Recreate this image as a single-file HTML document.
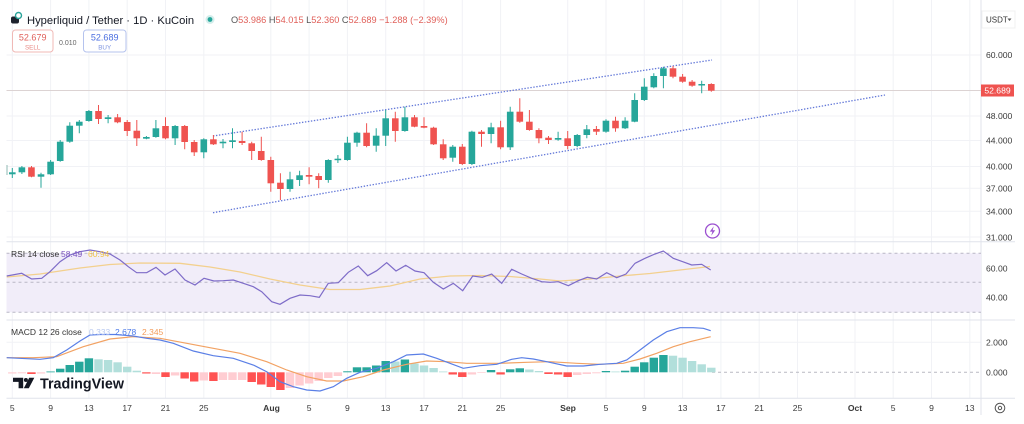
<!DOCTYPE html>
<html><head><meta charset="utf-8"><style>
html,body{margin:0;padding:0;background:#fff;}
svg{display:block;font-family:"Liberation Sans",sans-serif;}
</style></head><body>
<svg width="1024" height="424" viewBox="0 0 1024 424" xmlns="http://www.w3.org/2000/svg">
<defs><clipPath id="c"><rect x="6.5" y="0" width="974.5" height="398"/></clipPath></defs>
<rect width="1024" height="424" fill="#fff"/>
<!-- vertical grid -->
<g stroke="#f1f2f6" stroke-width="1">
<path d="M12.3 0V398M50.6 0V398M88.9 0V398M127.2 0V398M165.5 0V398M203.8 0V398M270.8 0V398M309.1 0V398M347.4 0V398M385.7 0V398M424 0V398M462.3 0V398M500.6 0V398M567.7 0V398M606 0V398M644.3 0V398M682.6 0V398M720.9 0V398M759.2 0V398M797.5 0V398M855 0V398M893.2 0V398M931.5 0V398M969.8 0V398"/>
<path d="M6.5 55H981M6.5 116H981M6.5 140.5H981M6.5 166.5H981M6.5 188.3H981M6.5 211.3H981M6.5 237H981M6.5 342.3H981"/>
</g>
<!-- separators -->
<g stroke="#e0e3eb" stroke-width="1">
<path d="M6.5 241.7H1015M6.5 320H1015M6.5 398.3H1015M981 0V415"/>
</g>
<!-- RSI band -->
<rect x="6.5" y="253.3" width="974.5" height="59" fill="#f1edf9"/>
<g stroke="#b9b7c6" stroke-width="1" stroke-dasharray="3,3">
<path d="M6.5 253.3H981M6.5 282.3H981M6.5 312.3H981"/>
</g>
<path d="M712 372.3H981" stroke="#b9b9c2" stroke-width="1" stroke-dasharray="3,3"/>
<!-- price line -->
<path d="M6.5 90.5H981" stroke="#dcd3d3" stroke-width="1"/>
<g clip-path="url(#c)">
<!-- channel -->
<g stroke="#6378d8" stroke-width="1.3" stroke-dasharray="1.4,1.6" fill="none">
<path d="M213 136L712 60"/>
<path d="M213 212.7L885 95"/>
</g>
<path d="M7 165V175" stroke="#8fb9b3" stroke-width="1"/>
<!-- teal candles -->
<path stroke="#26a69a" stroke-width="1" fill="none" d="M12.3 168V178M21.9 166V174M41 172.7V187.7M50.6 160V175M60.2 140V161.7M69.8 122.3V142.7M79.3 120V133.3M88.9 110V121.7M108.1 115V123.3M146.4 136V139.3M155.9 120V137.7M175.1 125V145M203.8 138.3V158.3M223 139V148.3M232.5 128.3V148.3M290 171.7V191.7M299.6 170.7V186M328.3 159.3V182.7M337.9 155V163M347.4 136.7V160.7M357 131.7V146.7M376.2 128.3V151.7M385.7 110V146M404.9 106.7V131.7M452.8 145V161.7M471.9 130.7V165M491.1 122.7V143.3M510.2 106.7V150M558.1 131.7V140.7M577.2 134V147.3M586.8 125V138.3M606 119.3V132.7M625.1 117.3V129M634.7 93.3V122.3M644.3 78.3V101M653.8 73.3V88.3M663.4 66.7V88.3M701.7 80.7V93.3"/>
<g fill="#26a69a">
<rect x="9" y="172.3" width="6.6" height="2"/>
<rect x="18.6" y="167.3" width="6.6" height="5"/>
<rect x="37.7" y="174.3" width="6.6" height="2.4"/>
<rect x="47.3" y="161.7" width="6.6" height="12.6"/>
<rect x="56.9" y="141.7" width="6.6" height="19.3"/>
<rect x="66.45" y="125.7" width="6.6" height="16"/>
<rect x="76" y="121.7" width="6.6" height="4"/>
<rect x="85.6" y="111" width="6.6" height="10"/>
<rect x="104.75" y="117.3" width="6.6" height="1.7"/>
<rect x="143.05" y="137" width="6.6" height="1.7"/>
<rect x="152.6" y="128.3" width="6.6" height="8.7"/>
<rect x="171.8" y="126" width="6.6" height="12.3"/>
<rect x="200.5" y="139.3" width="6.6" height="13"/>
<rect x="219.65" y="141.7" width="6.6" height="1.6"/>
<rect x="229.2" y="140.3" width="6.6" height="1.7"/>
<rect x="286.7" y="179.3" width="6.6" height="9.7"/>
<rect x="296.25" y="175.3" width="6.6" height="4.7"/>
<rect x="325" y="160" width="6.6" height="20"/>
<rect x="334.55" y="158.7" width="6.6" height="1.5"/>
<rect x="344.1" y="142.7" width="6.6" height="17.3"/>
<rect x="353.7" y="132.7" width="6.6" height="10"/>
<rect x="372.85" y="135.7" width="6.6" height="10"/>
<rect x="382.4" y="118.3" width="6.6" height="17.4"/>
<rect x="401.6" y="117.3" width="6.6" height="13.7"/>
<rect x="449.45" y="146.7" width="6.6" height="11"/>
<rect x="468.6" y="131.7" width="6.6" height="32.3"/>
<rect x="487.75" y="127.3" width="6.6" height="6.7"/>
<rect x="506.9" y="111.7" width="6.6" height="35.6"/>
<rect x="554.8" y="138" width="6.6" height="1.7"/>
<rect x="573.9" y="135" width="6.6" height="11"/>
<rect x="583.5" y="129.3" width="6.6" height="5.7"/>
<rect x="602.65" y="120.7" width="6.6" height="11"/>
<rect x="621.8" y="120.7" width="6.6" height="7.6"/>
<rect x="631.4" y="100" width="6.6" height="21.7"/>
<rect x="640.95" y="86.7" width="6.6" height="13.3"/>
<rect x="650.5" y="76" width="6.6" height="11.3"/>
<rect x="660.1" y="68.3" width="6.6" height="7.7"/>
<rect x="698.4" y="84" width="6.6" height="1.5"/>
</g>
<!-- red candles -->
<path stroke="#ef5350" stroke-width="1" fill="none" d="M31.5 166V177.3M98.5 105V124M117.6 114V123.3M127.2 120V136M136.8 120V146M165.5 117.3V139.3M184.7 125V149.3M194.2 140V156M213.4 135V145M242.1 131.7V145M251.7 141.7V160M261.3 136.7V160.7M270.8 156.7V191.7M280.4 173.3V200M309.1 167.3V184.3M318.7 173.3V188.3M366.6 123.3V147.3M395.3 111.7V141.7M414.5 115V127.3M424 117.3V128.3M433.6 126.7V145M443.2 139.3V160M462.3 144V165M481.5 130V146.7M500.6 120.7V149.3M519.8 98.3V122.7M529.4 110V130.7M538.9 128.3V143.3M548.5 136V144M567.7 131V149.3M596.4 126V135M615.5 116.7V131.7M673 66V78.3M682.6 74V82.7M692.1 80V86.7M711.3 83.3V91.7"/>
<g fill="#ef5350">
<rect x="28.15" y="167.3" width="6.6" height="9.4"/>
<rect x="95.2" y="111" width="6.6" height="8"/>
<rect x="114.3" y="117.3" width="6.6" height="5"/>
<rect x="123.9" y="122" width="6.6" height="9"/>
<rect x="133.5" y="130.7" width="6.6" height="7.6"/>
<rect x="162.2" y="126" width="6.6" height="12.3"/>
<rect x="181.35" y="126" width="6.6" height="16"/>
<rect x="190.9" y="142" width="6.6" height="10.3"/>
<rect x="210.1" y="139.3" width="6.6" height="5"/>
<rect x="238.8" y="141" width="6.6" height="2"/>
<rect x="248.4" y="143.3" width="6.6" height="7.7"/>
<rect x="257.95" y="151" width="6.6" height="9"/>
<rect x="267.5" y="160" width="6.6" height="23.3"/>
<rect x="277.1" y="182.7" width="6.6" height="6.3"/>
<rect x="305.8" y="175" width="6.6" height="1.7"/>
<rect x="315.4" y="176" width="6.6" height="4"/>
<rect x="363.3" y="132.7" width="6.6" height="13.3"/>
<rect x="392" y="118.3" width="6.6" height="12.7"/>
<rect x="411.15" y="117.3" width="6.6" height="9.4"/>
<rect x="420.7" y="126" width="6.6" height="1.7"/>
<rect x="430.3" y="127.7" width="6.6" height="16.6"/>
<rect x="439.9" y="144.3" width="6.6" height="14"/>
<rect x="459" y="146.7" width="6.6" height="17.3"/>
<rect x="478.2" y="131.7" width="6.6" height="2.3"/>
<rect x="497.3" y="127.3" width="6.6" height="20"/>
<rect x="516.5" y="111.7" width="6.6" height="10"/>
<rect x="526.05" y="121.7" width="6.6" height="8.3"/>
<rect x="535.6" y="130" width="6.6" height="8.3"/>
<rect x="545.2" y="137.7" width="6.6" height="2.3"/>
<rect x="564.35" y="138.3" width="6.6" height="7.7"/>
<rect x="593.1" y="129" width="6.6" height="2.7"/>
<rect x="612.2" y="120.7" width="6.6" height="7.6"/>
<rect x="669.7" y="68.3" width="6.6" height="8.4"/>
<rect x="679.25" y="76.7" width="6.6" height="5"/>
<rect x="688.8" y="81.7" width="6.6" height="4"/>
<rect x="708" y="84" width="6.6" height="6.7"/>
</g>
<!-- RSI -->
<polyline fill="none" stroke="#f3d08e" stroke-width="1.3" points="6.7,277 40,274 80,268 110,264.5 140,263 180,263.3 210,267 240,272 270,279 300,285 330,289.5 360,289.5 390,286 420,279 450,276 480,275.5 510,276.5 540,279 560,281 590,279 620,276 650,273.5 680,270 710,266.5"/>
<polyline fill="none" stroke="#7e6cc8" stroke-width="1.2" points="6.7,276 21.7,273.3 31.7,279 41.7,278.3 50,271.7 60,261.7 70,255 80,251.7 90,250 100,251.7 110,254 120,260 128.3,266.7 136.7,272.7 146.7,272.7 156,267.3 165,275 175,269 185,280 195,285 204,278.3 214,281 223.3,280.7 233.3,280 243.3,283.3 253.3,286.7 261.7,291.7 271.7,301.7 280,304.3 290,298.3 300,295 310,295.7 319.3,297.3 328.3,283.3 338.3,282.7 348.3,272.3 358.3,266 367.7,275.7 376.7,270.7 386.7,262.7 396,271 405.7,265.3 415,271 424,272.7 433.3,282.3 443.3,289 453.3,283.3 462.7,290.7 472.7,276 482.3,277.3 491.7,274 501.7,283.3 511.7,269.3 521.7,274 531.7,278.3 541.7,281.7 550,282.3 558.3,281.7 568.3,285.7 578.3,280.7 587.3,277.3 596.7,279 606.7,272.7 616.7,277.7 626,274 635,263.3 645,258.3 655,254 663.3,251 673.3,258.3 682.7,261.7 691.7,265 701.7,264.3 710.7,270"/>
<!-- MACD histogram -->
<g fill="#26a69a">
<rect x="46.4" y="371.5" width="8.4" height="0.8"/>
<rect x="56" y="368.7" width="8.4" height="3.6"/>
<rect x="65.55" y="365" width="8.4" height="7.3"/>
<rect x="75.1" y="361.7" width="8.4" height="10.6"/>
<rect x="84.7" y="358.3" width="8.4" height="14"/>
<rect x="343.2" y="371.3" width="8.4" height="1"/>
<rect x="352.8" y="367.3" width="8.4" height="5"/>
<rect x="362.4" y="367.3" width="8.4" height="5"/>
<rect x="371.95" y="365.5" width="8.4" height="6.8"/>
<rect x="381.5" y="361" width="8.4" height="11.3"/>
<rect x="400.7" y="359.5" width="8.4" height="12.8"/>
<rect x="486.85" y="370" width="8.4" height="2.3"/>
<rect x="506" y="369.3" width="8.4" height="3"/>
<rect x="515.6" y="368.3" width="8.4" height="4"/>
<rect x="601.75" y="371" width="8.4" height="1.3"/>
<rect x="620.9" y="370.7" width="8.4" height="1.6"/>
<rect x="630.5" y="366.7" width="8.4" height="5.6"/>
<rect x="640.05" y="362.3" width="8.4" height="10"/>
<rect x="649.6" y="357.7" width="8.4" height="14.6"/>
<rect x="659.2" y="355" width="8.4" height="17.3"/>
</g>
<g fill="#b2dfdb">
<rect x="94.3" y="359.3" width="8.4" height="13"/>
<rect x="103.85" y="360" width="8.4" height="12.3"/>
<rect x="113.4" y="362.3" width="8.4" height="10"/>
<rect x="123" y="366.7" width="8.4" height="5.6"/>
<rect x="132.6" y="370.7" width="8.4" height="1.6"/>
<rect x="391.1" y="361.5" width="8.4" height="10.8"/>
<rect x="410.25" y="363.5" width="8.4" height="8.8"/>
<rect x="419.8" y="365.5" width="8.4" height="6.8"/>
<rect x="429.4" y="368" width="8.4" height="4.3"/>
<rect x="439" y="371.5" width="8.4" height="0.8"/>
<rect x="525.15" y="369.5" width="8.4" height="2.8"/>
<rect x="534.7" y="371" width="8.4" height="1.3"/>
<rect x="611.3" y="371.5" width="8.4" height="0.8"/>
<rect x="668.8" y="355.7" width="8.4" height="16.6"/>
<rect x="678.35" y="357.7" width="8.4" height="14.6"/>
<rect x="687.9" y="361" width="8.4" height="11.3"/>
<rect x="697.5" y="364.3" width="8.4" height="8"/>
<rect x="707.1" y="367.7" width="8.4" height="4.6"/>
</g>
<g fill="#ff5252">
<rect x="27.25" y="372.3" width="8.4" height="1.7"/>
<rect x="142.15" y="372.3" width="8.4" height="1.2"/>
<rect x="161.3" y="372.3" width="8.4" height="4.7"/>
<rect x="180.45" y="372.3" width="8.4" height="6.2"/>
<rect x="190" y="372.3" width="8.4" height="9.2"/>
<rect x="209.2" y="372.3" width="8.4" height="8.7"/>
<rect x="247.5" y="372.3" width="8.4" height="9.7"/>
<rect x="257.05" y="372.3" width="8.4" height="12.2"/>
<rect x="266.6" y="372.3" width="8.4" height="14.7"/>
<rect x="276.2" y="372.3" width="8.4" height="17.7"/>
<rect x="448.55" y="372.3" width="8.4" height="2.2"/>
<rect x="458.1" y="372.3" width="8.4" height="4.7"/>
<rect x="496.4" y="372.3" width="8.4" height="2.2"/>
<rect x="544.3" y="372.3" width="8.4" height="1.7"/>
<rect x="553.9" y="372.3" width="8.4" height="2.2"/>
<rect x="563.45" y="372.3" width="8.4" height="4.7"/>
</g>
<g fill="#ffcdd2">
<rect x="8.1" y="372.3" width="8.4" height="1.2"/>
<rect x="17.7" y="372.3" width="8.4" height="1"/>
<rect x="36.8" y="372.3" width="8.4" height="1.2"/>
<rect x="151.7" y="372.3" width="8.4" height="1.7"/>
<rect x="170.9" y="372.3" width="8.4" height="3.2"/>
<rect x="199.6" y="372.3" width="8.4" height="8.2"/>
<rect x="218.75" y="372.3" width="8.4" height="7.7"/>
<rect x="228.3" y="372.3" width="8.4" height="7.7"/>
<rect x="237.9" y="372.3" width="8.4" height="7.7"/>
<rect x="285.8" y="372.3" width="8.4" height="15.7"/>
<rect x="295.35" y="372.3" width="8.4" height="13.2"/>
<rect x="304.9" y="372.3" width="8.4" height="11.2"/>
<rect x="314.5" y="372.3" width="8.4" height="8.7"/>
<rect x="324.1" y="372.3" width="8.4" height="5.7"/>
<rect x="333.65" y="372.3" width="8.4" height="3.7"/>
<rect x="467.7" y="372.3" width="8.4" height="2.2"/>
<rect x="477.3" y="372.3" width="8.4" height="0.7"/>
<rect x="573" y="372.3" width="8.4" height="2.7"/>
<rect x="582.6" y="372.3" width="8.4" height="1.7"/>
<rect x="592.2" y="372.3" width="8.4" height="1"/>
</g>
<!-- MACD lines -->
<polyline fill="none" stroke="#f2a263" stroke-width="1.2" points="6.7,357.7 33.3,357.7 56.7,356.7 83.3,346.7 110,339 133.3,336.7 160,338.3 186.7,343.3 213.3,348.3 240,353.3 266.7,361.7 286.7,370 306.7,376.7 326.7,381 343.3,381 363.3,376.7 383.3,370 406.7,364.3 426.7,361 446.7,361.7 466.7,363.3 486.7,363.3 500,363.3 526.7,362.3 550,361.7 576.7,363.3 600,364.3 623.3,363.3 640,359 656.7,353.3 673.3,346.7 690,341.7 710.7,336.7"/>
<polyline fill="none" stroke="#5a7fe6" stroke-width="1.2" points="6.7,357.7 40,359.3 53.3,357.7 66.7,350 80,341 90,335 100,334.5 115,334.5 133,336 146.7,338.3 160,340 173.3,343.3 193.3,351 213.3,355.7 233.3,358.3 253.3,365 266.7,371.7 280,381.7 293.3,386.7 306.7,390 320,391 333.3,386.7 346.7,378.3 360,372.3 376.7,368.3 393.3,361.7 406.7,355 423.3,354 436.7,358.3 450,363.3 463.3,368.3 480,365.7 496.7,364.3 511.7,359.3 521.7,357.7 533.3,359 546.7,361.7 566.7,366 583.3,366 600,364.3 616.7,363.3 626.7,360 640,350 653.3,340 666.7,331.7 680,327.7 693.3,327.7 703.3,328.3 710.7,330.7"/>
</g>
<!-- lightning icon -->
<circle cx="712.5" cy="231" r="7" fill="#fff" stroke="#9b4fd0" stroke-width="1.3"/>
<path d="M713.8 226.3L709.8 231.6H712.4L711.2 235.7L715.2 230.3H712.6Z" fill="#9b4fd0"/>
<!-- TradingView logo -->
<g fill="#131722">
<path d="M13 377.8H23.2V388.3H18.6V381.9H13Z"/>
<circle cx="25.9" cy="380" r="2"/>
<path d="M29.2 377.8H34.3L28.8 388.3H23.8Z"/>
<text x="40" y="388.6" font-size="14.3" font-weight="bold">TradingView</text>
</g>
<!-- header -->
<rect x="11" y="16.5" width="8" height="7" rx="2" fill="#1e222d"/>
<circle cx="18.5" cy="15.5" r="3" fill="#fff" stroke="#2aa39a" stroke-width="1.4"/>
<text x="27" y="24" font-size="11.2" fill="#131722">Hyperliquid / Tether · 1D · KuCoin</text>
<circle cx="210" cy="19.5" r="4.5" fill="#26a69a" opacity="0.2"/>
<circle cx="210" cy="19.5" r="2.4" fill="#26a69a"/>
<text x="231" y="23" font-size="9.2" fill="#e0605a"><tspan fill="#555">O</tspan>53.986 <tspan fill="#555">H</tspan>54.015 <tspan fill="#555">L</tspan>52.360 <tspan fill="#555">C</tspan>52.689 −1.288 (−2.39%)</text>
<rect x="12.5" y="30" width="40.5" height="22" rx="3" fill="#fff" stroke="#f0b9b6" stroke-width="1"/>
<text x="32.7" y="40.5" font-size="9" fill="#e0605a" text-anchor="middle">52.679</text>
<text x="32.7" y="49.3" font-size="6.3" fill="#e88a85" text-anchor="middle">SELL</text>
<text x="59" y="45" font-size="7" fill="#666">0.010</text>
<rect x="83.5" y="30" width="42.5" height="22" rx="3" fill="#fff" stroke="#b5c3ee" stroke-width="1"/>
<text x="104.7" y="40.5" font-size="9" fill="#4a6ee0" text-anchor="middle">52.689</text>
<text x="104.7" y="49.3" font-size="6.3" fill="#7f95e0" text-anchor="middle">BUY</text>
<!-- legends -->
<text x="11" y="257" font-size="8.5" fill="#333">RSI 14 close <tspan x="61" fill="#7e57c2">58.49</tspan><tspan x="88" fill="#f0c449">60.94</tspan></text>
<text x="11" y="335" font-size="8.5" fill="#333">MACD 12 26 close <tspan x="89" fill="#b9c9f0">0.333</tspan><tspan x="115" fill="#4a78e8">2.678</tspan><tspan x="142" fill="#f39c5a">2.345</tspan></text>
<!-- price axis -->
<rect x="982" y="11" width="33" height="17" fill="#fff" stroke="#f0f0f0"/>
<text x="986" y="22.3" font-size="8" fill="#333">USDT</text>
<path d="M1007.5 18.5h4l-2 2.5z" fill="#555"/>
<g font-size="8.6" fill="#3a3a3a">
<text x="986" y="58">60.000</text>
<text x="986" y="119">48.000</text>
<text x="986" y="143.3">44.000</text>
<text x="986" y="169.5">40.000</text>
<text x="986" y="191.3">37.000</text>
<text x="986" y="214.3">34.000</text>
<text x="986" y="240.3">31.000</text>
<text x="986" y="271.3">60.00</text>
<text x="986" y="300.7">40.00</text>
<text x="986" y="345.3">2.000</text>
<text x="986" y="375.3">0.000</text>
</g>
<rect x="981" y="84.5" width="33" height="12" fill="#ef5350"/>
<text x="997.5" y="93.6" font-size="8.6" fill="#fff" text-anchor="middle">52.689</text>
<!-- time axis -->
<g font-size="8.6" fill="#3a3a3a" text-anchor="middle">
<text x="12.3" y="411">5</text>
<text x="50.6" y="411">9</text>
<text x="88.9" y="411">13</text>
<text x="127.2" y="411">17</text>
<text x="165.5" y="411">21</text>
<text x="203.8" y="411">25</text>
<text x="271.5" y="411" font-weight="bold">Aug</text>
<text x="309.1" y="411">5</text>
<text x="347.4" y="411">9</text>
<text x="385.7" y="411">13</text>
<text x="424" y="411">17</text>
<text x="462.3" y="411">21</text>
<text x="500.6" y="411">25</text>
<text x="568" y="411" font-weight="bold">Sep</text>
<text x="606" y="411">5</text>
<text x="644.3" y="411">9</text>
<text x="682.6" y="411">13</text>
<text x="720.9" y="411">17</text>
<text x="759.2" y="411">21</text>
<text x="797.5" y="411">25</text>
<text x="855" y="411" font-weight="bold">Oct</text>
<text x="893.2" y="411">5</text>
<text x="931.5" y="411">9</text>
<text x="969.8" y="411">13</text>
</g>
<circle cx="1000" cy="408" r="4.8" fill="none" stroke="#555" stroke-width="1"/>
<circle cx="1000" cy="408" r="1.7" fill="none" stroke="#555" stroke-width="1"/>
</svg>
</body></html>
